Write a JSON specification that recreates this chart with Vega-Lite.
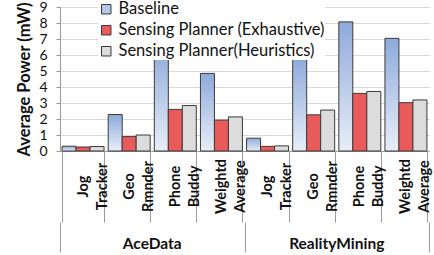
{
  "$schema": "https://vega.github.io/schema/vega-lite/v6.json",
  "width": 369,
  "height": 144,
  "autosize": {"type": "none"},
  "padding": {"left": 60, "top": 7, "right": 5, "bottom": 104},
  "background": "white",
  "config": {
    "font": "Lato",
    "view": {"stroke": null},
    "axis": {"labelFont": "Lato", "titleFont": "Lato", "labelColor": "#111111", "titleColor": "#111111"}
  },
  "data": {
    "values": [
      {"group": "AceData", "cat": "AceData|Jog Tracker", "series": "Baseline", "value": 0.3},
      {"group": "AceData", "cat": "AceData|Jog Tracker", "series": "Sensing Planner (Exhaustive)", "value": 0.25},
      {"group": "AceData", "cat": "AceData|Jog Tracker", "series": "Sensing Planner(Heuristics)", "value": 0.28},
      {"group": "AceData", "cat": "AceData|Geo Rmnder", "series": "Baseline", "value": 2.28},
      {"group": "AceData", "cat": "AceData|Geo Rmnder", "series": "Sensing Planner (Exhaustive)", "value": 0.9},
      {"group": "AceData", "cat": "AceData|Geo Rmnder", "series": "Sensing Planner(Heuristics)", "value": 1.0},
      {"group": "AceData", "cat": "AceData|Phone Buddy", "series": "Baseline", "value": 6.5},
      {"group": "AceData", "cat": "AceData|Phone Buddy", "series": "Sensing Planner (Exhaustive)", "value": 2.6},
      {"group": "AceData", "cat": "AceData|Phone Buddy", "series": "Sensing Planner(Heuristics)", "value": 2.84},
      {"group": "AceData", "cat": "AceData|Weightd Average", "series": "Baseline", "value": 4.85},
      {"group": "AceData", "cat": "AceData|Weightd Average", "series": "Sensing Planner (Exhaustive)", "value": 1.93},
      {"group": "AceData", "cat": "AceData|Weightd Average", "series": "Sensing Planner(Heuristics)", "value": 2.13},
      {"group": "RealityMining", "cat": "RealityMining|Jog Tracker", "series": "Baseline", "value": 0.8},
      {"group": "RealityMining", "cat": "RealityMining|Jog Tracker", "series": "Sensing Planner (Exhaustive)", "value": 0.29},
      {"group": "RealityMining", "cat": "RealityMining|Jog Tracker", "series": "Sensing Planner(Heuristics)", "value": 0.32},
      {"group": "RealityMining", "cat": "RealityMining|Geo Rmnder", "series": "Baseline", "value": 5.87},
      {"group": "RealityMining", "cat": "RealityMining|Geo Rmnder", "series": "Sensing Planner (Exhaustive)", "value": 2.26},
      {"group": "RealityMining", "cat": "RealityMining|Geo Rmnder", "series": "Sensing Planner(Heuristics)", "value": 2.56},
      {"group": "RealityMining", "cat": "RealityMining|Phone Buddy", "series": "Baseline", "value": 8.07},
      {"group": "RealityMining", "cat": "RealityMining|Phone Buddy", "series": "Sensing Planner (Exhaustive)", "value": 3.6},
      {"group": "RealityMining", "cat": "RealityMining|Phone Buddy", "series": "Sensing Planner(Heuristics)", "value": 3.72},
      {"group": "RealityMining", "cat": "RealityMining|Weightd Average", "series": "Baseline", "value": 7.04},
      {"group": "RealityMining", "cat": "RealityMining|Weightd Average", "series": "Sensing Planner (Exhaustive)", "value": 3.02},
      {"group": "RealityMining", "cat": "RealityMining|Weightd Average", "series": "Sensing Planner(Heuristics)", "value": 3.19}
    ]
  },
  "layer": [
    {
      "mark": {"type": "bar", "stroke": "#3a3a3a", "strokeWidth": 1},
      "encoding": {
        "x": {
          "field": "cat",
          "type": "nominal",
          "sort": ["AceData|Jog Tracker", "AceData|Geo Rmnder", "AceData|Phone Buddy", "AceData|Weightd Average", "RealityMining|Jog Tracker", "RealityMining|Geo Rmnder", "RealityMining|Phone Buddy", "RealityMining|Weightd Average"],
          "scale": {"paddingInner": 0.09, "paddingOuter": 0.045},
          "axis": {
            "title": null,
            "labelAngle": -90,
            "labelAlign": "center",
            "labelBaseline": "middle",
            "labelExpr": "isString(datum.value) ? split(split(datum.value, '|')[1], ' ') : ''",
            "labelFontSize": 14.5,
            "labelFontWeight": "bold",
            "labelLineHeight": 19,
            "tickBand": "extent",
            "tickSize": 71,
            "labelPadding": -36,
            "domainColor": "#9a9a9a",
            "tickColor": "#9a9a9a",
            "labelOverlap": false
          }
        },
        "xOffset": {
          "field": "series",
          "sort": ["Baseline", "Sensing Planner (Exhaustive)", "Sensing Planner(Heuristics)"],
          "scale": {"paddingInner": 0, "paddingOuter": 0}
        },
        "y": {
          "field": "value",
          "type": "quantitative",
          "scale": {"domain": [0, 9], "nice": false},
          "axis": {
            "title": "Average Power (mW)",
            "titleFontSize": 16.5,
            "titleFontWeight": "bold",
            "titleAngle": -90,
            "titleX": -36,
            "titleY": 72,
            "titleAlign": "center",
            "titleBaseline": "middle",
            "values": [0, 1, 2, 3, 4, 5, 6, 7, 8, 9],
            "labelFontSize": 14,
            "labelPadding": 9,
            "tickSize": 4,
            "domainColor": "#9a9a9a",
            "tickColor": "#9a9a9a",
            "gridColor": "#d9d9d9"
          }
        },
        "color": {
          "condition": {
            "test": "datum.series === 'Baseline'",
            "value": {
              "gradient": "linear",
              "x1": 0, "y1": 0, "x2": 0, "y2": 1,
              "stops": [
                {"offset": 0, "color": "#8eaadb"},
                {"offset": 1, "color": "#e8eef8"}
              ]
            }
          },
          "field": "series",
          "type": "nominal",
          "scale": {
            "domain": ["Baseline", "Sensing Planner (Exhaustive)", "Sensing Planner(Heuristics)"],
            "range": ["#b4c7e7", "#e95b5b", "#dcdcdc"]
          },
          "legend": {
            "title": null,
            "orient": "none",
            "legendX": 38,
            "legendY": -6,
            "padding": 0,
            "fillColor": "white",
            "symbolType": "square",
            "symbolSize": 90,
            "symbolStrokeColor": "#3a3a3a",
            "symbolStrokeWidth": 1,
            "labelFont": "Lato",
            "labelFontSize": 16.5,
            "labelColor": "#111111",
            "labelOffset": 4,
            "labelLimit": 400,
            "rowPadding": 4
          }
        }
      }
    },
    {
      "mark": {"type": "bar", "opacity": 0},
      "encoding": {
        "x": {
          "field": "group",
          "type": "nominal",
          "sort": ["AceData", "RealityMining"],
          "scale": {"paddingInner": 0, "paddingOuter": 0},
          "axis": {
            "title": null,
            "orient": "bottom",
            "offset": 71,
            "domain": false,
            "ticks": false,
            "labelAngle": 0,
            "labelAlign": "center",
            "labelBaseline": "middle",
            "labelFontSize": 15.5,
            "labelFontWeight": "bold",
            "labelPadding": 21.5
          }
        }
      }
    },
    {
      "mark": {"type": "bar", "opacity": 0},
      "encoding": {
        "x": {
          "field": "group",
          "type": "nominal",
          "sort": ["AceData", "RealityMining"],
          "scale": {"paddingInner": 0, "paddingOuter": 0},
          "axis": {
            "title": null,
            "orient": "bottom",
            "offset": 71,
            "domain": false,
            "labels": false,
            "tickBand": "extent",
            "tickSize": 30,
            "tickColor": "#9a9a9a"
          }
        }
      }
    }
  ],
  "resolve": {"scale": {"x": "independent"}, "axis": {"x": "independent"}}
}
